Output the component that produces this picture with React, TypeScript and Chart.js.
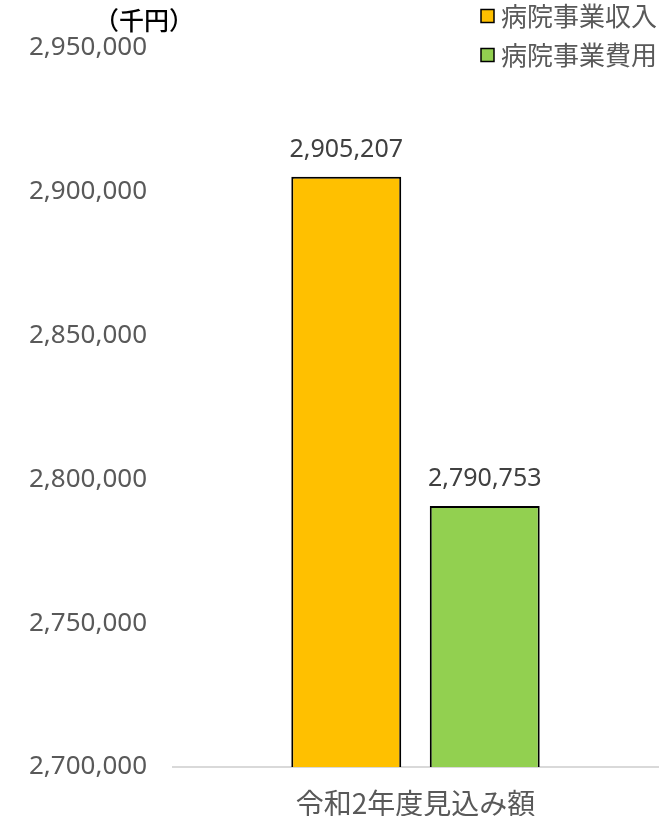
import React, { useEffect, useRef } from "react";
import { Chart, registerables } from "chart.js";

Chart.register(...registerables);

const categories = ["令和2年度見込み額"];
const seriesNames = ["病院事業収入", "病院事業費用"];
const revenue = [2905207];
const expense = [2790753];
const seriesColors = ["#FFC000", "#92D050"];
const yMin = 2700000;
const yMax = 2950000;
const yStep = 50000;
const unitLabel = "（千円）";

const NUM_FONT = "'Noto Sans', 'Noto Sans CJK JP', sans-serif";
const CJK_FONT = "'Noto Sans CJK JP', 'Noto Sans', sans-serif";

const fmt = (v: number) => Math.round(v).toLocaleString("en-US");

const overlayPlugin = {
  id: "overlay",
  afterDatasetsDraw(chart: any) {
    const ctx = chart.ctx as CanvasRenderingContext2D;
    ctx.save();
    // data labels
    ctx.font = `25px ${NUM_FONT}`;
    ctx.fillStyle = "#404040";
    ctx.textAlign = "center";
    ctx.textBaseline = "middle";
    chart.data.datasets.forEach((ds: any, i: number) => {
      const meta = chart.getDatasetMeta(i);
      meta.data.forEach((el: any, j: number) => {
        ctx.fillText(fmt(ds.data[j]), el.x, el.y - 27);
      });
    });
    // unit label
    ctx.font = `500 25px ${CJK_FONT}`;
    ctx.fillStyle = "#000000";
    ctx.fillText(unitLabel, 144, 20);
    // legend
    ctx.textAlign = "left";
    ctx.font = `26px ${CJK_FONT}`;
    chart.data.datasets.forEach((ds: any, i: number) => {
      const y = 16 + i * 39;
      ctx.fillStyle = ds.backgroundColor;
      ctx.fillRect(481, y - 6.5, 13, 13);
      ctx.strokeStyle = "#000000";
      ctx.lineWidth = 1.5;
      ctx.strokeRect(481, y - 6.5, 13, 13);
      ctx.fillStyle = "#595959";
      ctx.fillText(ds.label, 501, y);
    });
    ctx.restore();
  },
};

export default function App() {
  const ref = useRef<HTMLCanvasElement | null>(null);
  useEffect(() => {
    document.body.style.margin = "0";
    if (!ref.current) return;
    const chart = new Chart(ref.current, {
      type: "bar",
      data: {
        labels: categories,
        datasets: [
          {
            label: seriesNames[0],
            data: revenue,
            backgroundColor: seriesColors[0],
            borderColor: "#000000",
            borderWidth: 2,
          },
          {
            label: seriesNames[1],
            data: expense,
            backgroundColor: seriesColors[1],
            borderColor: "#000000",
            borderWidth: 2,
          },
        ],
      },
      options: {
        animation: false,
        responsive: false,
        devicePixelRatio: 1,
        layout: { padding: { top: 48, right: 8, left: 0, bottom: 0 } },
        datasets: {
          bar: { categoryPercentage: 0.571, barPercentage: 0.794 },
        },
        plugins: {
          legend: { display: false },
          tooltip: { enabled: false },
        },
        scales: {
          x: {
            grid: { display: false },
            border: { display: true, color: "#d9d9d9", width: 2 },
            ticks: {
              color: "#595959",
              font: { family: CJK_FONT, size: 28 },
              padding: 12,
            },
            afterFit(scale: any) {
              scale.height = 49;
            },
          },
          y: {
            min: yMin,
            max: yMax,
            grid: { display: false },
            border: { display: false },
            ticks: {
              stepSize: yStep,
              color: "#595959",
              font: { family: NUM_FONT, size: 26 },
              padding: 18,
              callback: (v: any) => fmt(Number(v)),
            },
            afterFit(scale: any) {
              scale.width = 173;
            },
          },
        },
      },
      plugins: [overlayPlugin],
    });
    return () => chart.destroy();
  }, []);
  return (
    <div style={{ width: 666, height: 816, position: "relative" }}>
      <canvas ref={ref} width={666} height={816} style={{ display: "block" }} />
    </div>
  );
}
